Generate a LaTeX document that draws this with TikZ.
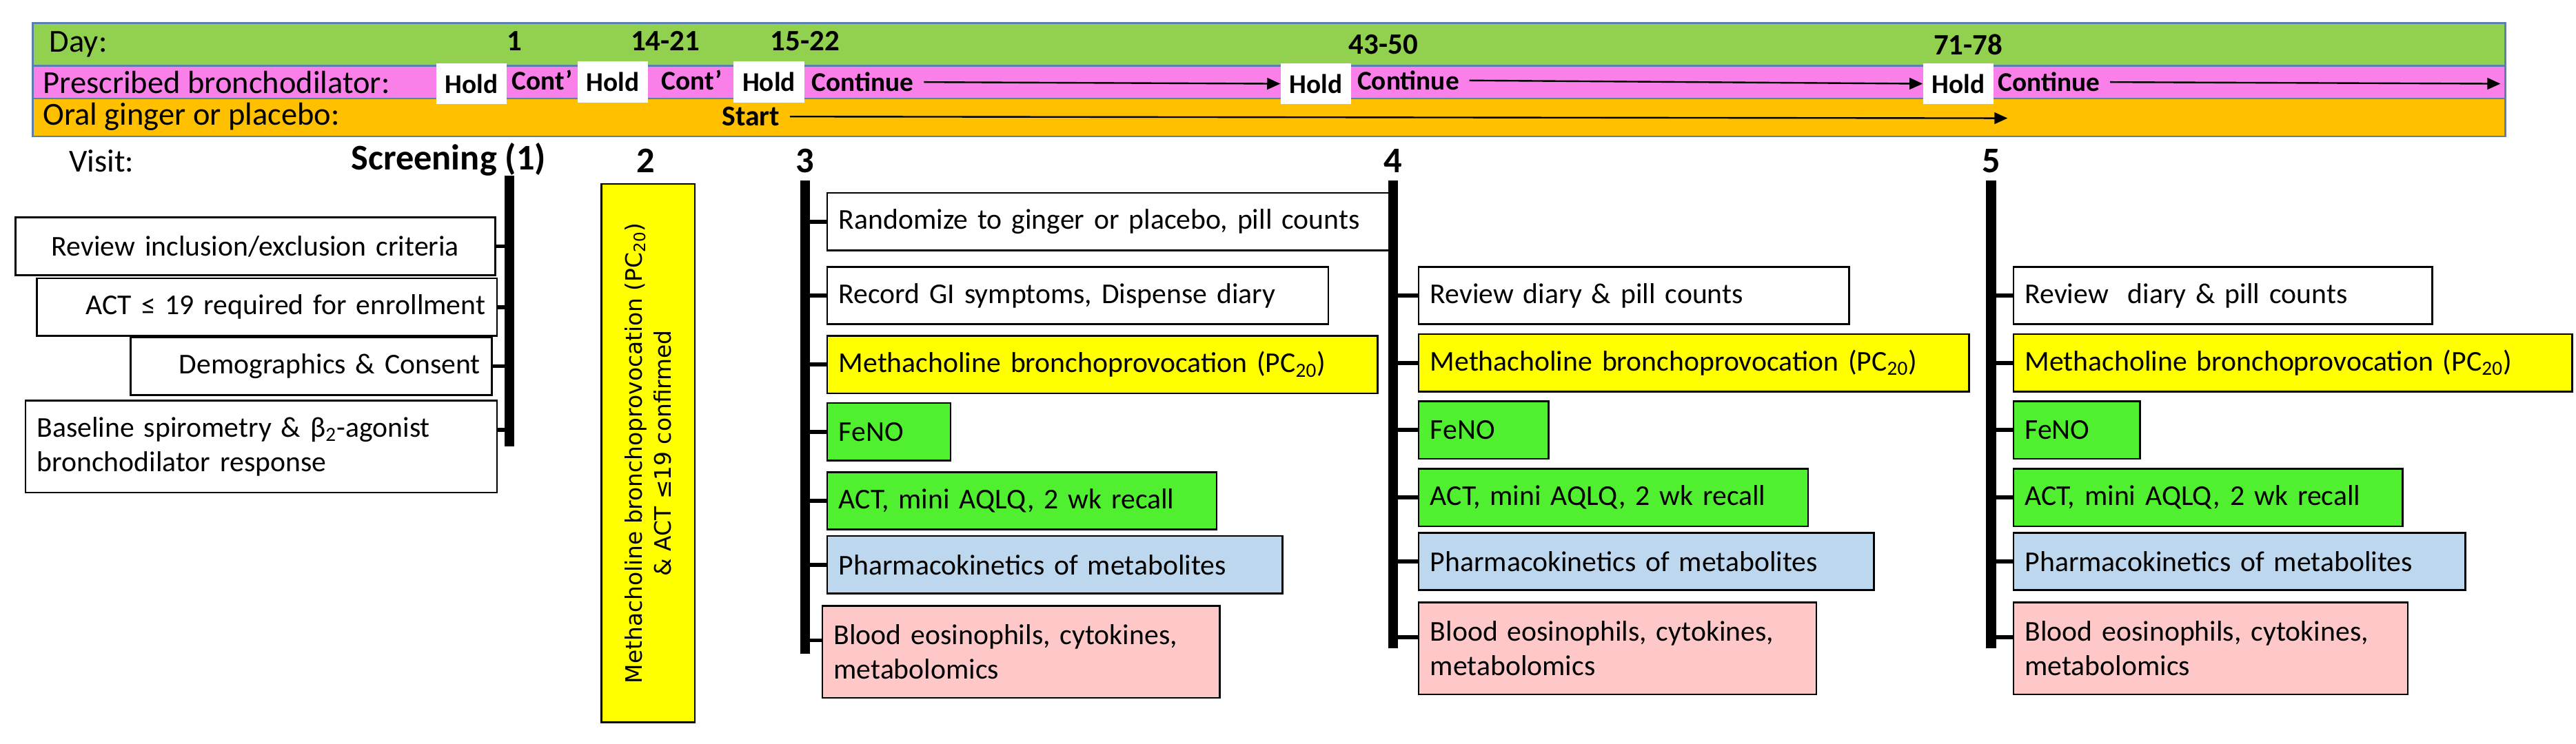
\documentclass[tikz,border=0pt]{standalone}
\usepackage{fontspec}
\setmainfont{Carlito}
\newfontfamily\dvs{DejaVu Sans}
\usetikzlibrary{arrows.meta}
\definecolor{gband}{HTML}{92D050}
\definecolor{pband}{HTML}{F880E8}
\definecolor{oband}{HTML}{FFC000}
\definecolor{bord}{HTML}{5A7FB0}
\definecolor{ybox}{HTML}{FFFF00}
\definecolor{gbox}{HTML}{50F030}
\definecolor{bbox}{HTML}{BDD7EE}
\definecolor{rbox}{HTML}{FFC8C8}
\begin{document}
\begin{tikzpicture}[x=1pt,y=-1pt,
  band/.style={draw=bord,line width=1pt},
  box/.style={draw,line width=1.1pt,anchor=west,inner xsep=7pt,inner ysep=3pt,align=left,minimum height=35pt,font=\fontsize{17.5}{21}\selectfont},
  bar/.style={line width=6pt},
  tick/.style={line width=2.5pt},
  hold/.style={fill=white,inner sep=0pt,minimum width=43pt,minimum height=25pt,font=\bfseries\fontsize{16.5}{18}\selectfont},
  bt/.style={font=\bfseries\fontsize{16.5}{18}\selectfont,inner sep=0pt},
  lt/.style={font=\fontsize{19.5}{21}\selectfont,inner sep=0pt,anchor=west},
  dn/.style={font=\bfseries\fontsize{18}{20}\selectfont,inner sep=0pt},
  vn/.style={font=\bfseries\fontsize{22}{24}\selectfont,inner sep=0pt},
  arr/.style={line width=1pt,-{Triangle[length=8pt,width=7pt]}}]
\useasboundingbox (0,0) rectangle (1568,453);
% bands
\path[band,fill=gband] (20,14) rectangle (1525,40);
\path[band,fill=pband] (20,40) rectangle (1525,60);
\path[band,fill=oband] (20,60) rectangle (1525,83);
% day row
\node[lt] (day) at (30,27) {Day:};
\node[dn] (d1) at (313,25) {1};
\node[dn] (d2) at (405,25) {14-21};
\node[dn] (d3) at (490,25) {15-22};
\node[dn] (d4) at (842,27) {43-50};
\node[dn] (d5) at (1198,27) {71-78};
% pink row
\node[lt] (presc) at (26,50) {Prescribed bronchodilator:};
\node[hold] (h1) at (287,51) {Hold};
\node[bt] (c1) at (330,49) {Cont’};
\node[hold] (h2) at (373,50) {Hold};
\node[bt] (c2) at (421,49) {Cont’};
\node[hold] (h3) at (468,50) {Hold};
\node[bt,anchor=west] (k3) at (494,50) {Continue};
\node[hold] (h4) at (801,51) {Hold};
\node[bt,anchor=west] (k4) at (826,49) {Continue};
\node[hold] (h5) at (1192,51) {Hold};
\node[bt,anchor=west] (k5) at (1216,50) {Continue};
\coordinate (pend) at (1522,51);
\draw[arr] ([xshift=6pt]k3.east) -- (h4.west);
\draw[arr] ([xshift=6pt]k4.east) -- (h5.west);
\draw[arr] ([xshift=6pt]k5.east) -- (pend);
% orange row
\node[lt] (oral) at (26,71) {Oral ginger or placebo:};
\node[bt,font=\bfseries\fontsize{17.5}{19}\selectfont] (start) at (457,71) {Start};
\coordinate (send) at (1222,72);
\draw[arr] ([xshift=6pt]start.east) -- (send);
% visit row
\node[lt] (visit) at (42,98) {Visit:};
\node[vn] (s1) at (273,97) {Screening (1)};
\node[vn] (s2) at (393,98) {2};
\node[vn] (s3) at (490,98) {3};
\node[vn] (s4) at (848,98) {4};
\node[vn] (s5) at (1212,98) {5};
% bars
\coordinate (v1t) at (310,107); \coordinate (v1b) at (310,272);
\coordinate (v3t) at (490,110); \coordinate (v3b) at (490,398);
\coordinate (v4t) at (848,110); \coordinate (v4b) at (848,395);
\coordinate (v5t) at (1212,110); \coordinate (v5b) at (1212,395);
\foreach \v in {1,3,4,5} \draw[bar] (v\v t) -- (v\v b);
% screening boxes
\node[box,anchor=east,minimum width=292pt,text width=278pt,align=center] (a1) at (302,150) {Review inclusion/exclusion criteria};
\node[box,anchor=east,minimum width=280pt,text width=266pt,align=right] (a2) at (303,187) {ACT ≤ 19 required for enrollment};
\node[box,anchor=east,minimum width=220pt,text width=206pt,align=right] (a3) at (300,223) {Demographics \& Consent};
\node[box,anchor=east,minimum width=287pt,text width=273pt,minimum height=56pt] (a4) at (303,272) {Baseline spirometry \& β\textsubscript{2}-agonist\\bronchodilator response};
\foreach \b/\y in {a1/150,a2/187,a3/223,a4/262} \draw[tick] (\b.east |- 0,\y) -- (v1t |- 0,\y);
% visit 2
\node[draw,line width=1.1pt,fill=ybox,rotate=90,minimum width=328pt,minimum height=57pt,align=center,inner sep=2pt,font=\dvs\fontsize{13.8}{18}\selectfont] (m2) at (394.5,276) {Methacholine bronchoprovocation (PC\textsubscript{20})\\ \& ACT ≤19 confirmed};
% visit 3
\node[box,minimum width=345pt,text width=331pt] (b1) at (503,135) {Randomize to ginger or placebo, pill counts};
\node[box,minimum width=305pt,text width=291pt] (b2) at (503,180) {Record GI symptoms, Dispense diary};
\node[box,fill=ybox,minimum width=335pt,text width=321pt] (b3) at (503,222) {Methacholine bronchoprovocation (PC\textsubscript{20})};
\node[box,fill=gbox,minimum width=75pt,text width=61pt] (b4) at (503,263) {FeNO};
\node[box,fill=gbox,minimum width=237pt,text width=223pt] (b5) at (503,305) {ACT, mini AQLQ, 2 wk recall};
\node[box,fill=bbox,minimum width=277pt,text width=263pt] (b6) at (503,344) {Pharmacokinetics of metabolites};
\node[box,fill=rbox,minimum width=242pt,text width=228pt,minimum height=56pt] (b7) at (500,397) {Blood eosinophils, cytokines,\\metabolomics};
\foreach \b/\y in {b1/135,b2/180,b3/222,b4/263,b5/305,b6/344,b7/390} \draw[tick] (v3t |- 0,\y) -- (\b.west |- 0,\y);
% visit 4
\node[box,minimum width=262pt,text width=248pt] (c2b) at (863,180) {Review diary \& pill counts};
\node[box,fill=ybox,minimum width=335pt,text width=321pt] (c3b) at (863,221) {Methacholine bronchoprovocation (PC\textsubscript{20})};
\node[box,fill=gbox,minimum width=79pt,text width=65pt] (c4b) at (863,262) {FeNO};
\node[box,fill=gbox,minimum width=237pt,text width=223pt] (c5b) at (863,303) {ACT, mini AQLQ, 2 wk recall};
\node[box,fill=bbox,minimum width=277pt,text width=263pt] (c6b) at (863,342) {Pharmacokinetics of metabolites};
\node[box,fill=rbox,minimum width=242pt,text width=228pt,minimum height=56pt] (c7b) at (863,395) {Blood eosinophils, cytokines,\\metabolomics};
\foreach \b/\y in {c2b/180,c3b/221,c4b/262,c5b/303,c6b/342,c7b/388} \draw[tick] (v4t |- 0,\y) -- (\b.west |- 0,\y);
% visit 5
\node[box,minimum width=255pt,text width=241pt] (e2) at (1225,180) {Review \ diary \& pill counts};
\node[box,fill=ybox,minimum width=340pt,text width=326pt] (e3) at (1225,221) {Methacholine bronchoprovocation (PC\textsubscript{20})};
\node[box,fill=gbox,minimum width=77pt,text width=63pt] (e4) at (1225,262) {FeNO};
\node[box,fill=gbox,minimum width=237pt,text width=223pt] (e5) at (1225,303) {ACT, mini AQLQ, 2 wk recall};
\node[box,fill=bbox,minimum width=275pt,text width=261pt] (e6) at (1225,342) {Pharmacokinetics of metabolites};
\node[box,fill=rbox,minimum width=240pt,text width=226pt,minimum height=56pt] (e7) at (1225,395) {Blood eosinophils, cytokines,\\metabolomics};
\foreach \b/\y in {e2/180,e3/221,e4/262,e5/303,e6/342,e7/388} \draw[tick] (v5t |- 0,\y) -- (\b.west |- 0,\y);
\end{tikzpicture}
\end{document}
